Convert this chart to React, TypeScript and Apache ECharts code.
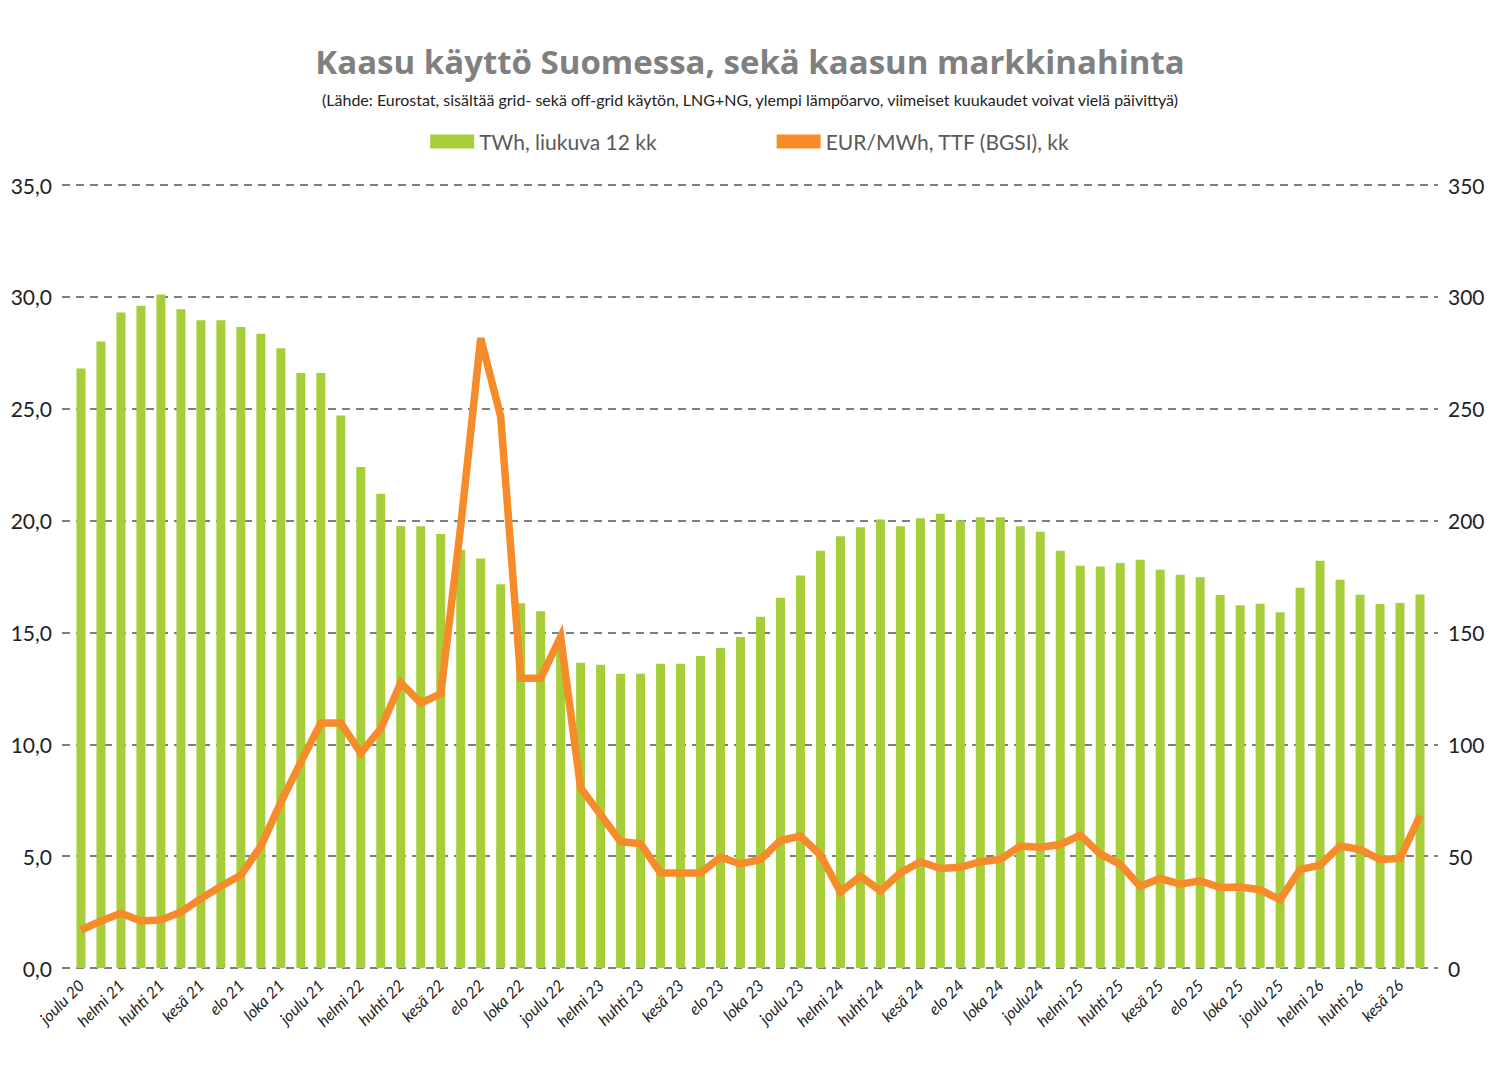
import { useEffect, useRef } from "react";
import * as echarts from "echarts";

// months from Dec 2020 to Jul 2026 (every other one is labelled)
const categories = [
  "joulu 20",
  "tammi 21", "helmi 21", "maalis 21", "huhti 21", "touko 21", "kesä 21",
  "heinä 21", "elo 21", "syys 21", "loka 21", "marras 21", "joulu 21",
  "tammi 22", "helmi 22", "maalis 22", "huhti 22", "touko 22", "kesä 22",
  "heinä 22", "elo 22", "syys 22", "loka 22", "marras 22", "joulu 22",
  "tammi 23", "helmi 23", "maalis 23", "huhti 23", "touko 23", "kesä 23",
  "heinä 23", "elo 23", "syys 23", "loka 23", "marras 23", "joulu 23",
  "tammi 24", "helmi 24", "maalis 24", "huhti 24", "touko 24", "kesä 24",
  "heinä 24", "elo 24", "syys 24", "loka 24", "marras 24", "joulu24",
  "tammi 25", "helmi 25", "maalis 25", "huhti 25", "touko 25", "kesä 25",
  "heinä 25", "elo 25", "syys 25", "loka 25", "marras 25", "joulu 25",
  "tammi 26", "helmi 26", "maalis 26", "huhti 26", "touko 26", "kesä 26",
  "heinä 26",
];

// TWh, rolling 12 months
const twh = [
  26.8, 28.0, 29.3, 29.6, 30.1, 29.45, 28.95, 28.95, 28.65, 28.35, 27.7, 26.6,
  26.6, 24.7, 22.4, 21.2, 19.75, 19.75, 19.4, 18.7, 18.3, 17.15, 16.3, 15.95,
  14.5, 13.65, 13.55, 13.15, 13.15, 13.6, 13.6, 13.95, 14.3, 14.8, 15.7, 16.55,
  17.55, 18.65, 19.3, 19.7, 20.05, 19.75, 20.1, 20.3, 20.0, 20.15, 20.15, 19.75,
  19.5, 18.65, 17.98, 17.95, 18.1, 18.25, 17.8, 17.58, 17.47, 16.67, 16.22, 16.28,
  15.9, 17.0, 18.2, 17.35, 16.68, 16.27, 16.32, 16.7,
];

// EUR/MWh, TTF monthly
const ttf = [
  17, 21, 24.5, 21, 21.5, 25, 31, 36.5, 41.5, 54.5, 74, 92,
  109.5, 109.5, 96, 107, 127.5, 118.5, 122.5, 197.5, 281.5, 246.5, 129.5, 129.5,
  148, 80.5, 68.5, 56.5, 55.5, 42.5, 42.5, 42.5, 49.5, 46.5, 48.5, 57,
  59, 50.5, 34, 41, 34.5, 42.5, 47.5, 44.5, 45, 47.5, 48.5, 54.5,
  54, 55.2, 59.4, 51, 46.3, 36.5, 40, 37.5, 39, 36, 36.2, 35,
  30.5, 44, 46, 54.5, 53, 48.5, 49, 68,
];

const leftTicks = { min: 0, max: 35, interval: 5 };
const rightTicks = { min: 0, max: 350, interval: 50 };

const GREEN = "#a6ce39";
const ORANGE = "#f68b29";
const FONT = "Lato";

const App = () => {
  const ref = useRef<HTMLDivElement>(null);

  useEffect(() => {
    document.body.style.margin = "0";
    if (!ref.current) return;
    const chart = echarts.init(ref.current, undefined, { renderer: "svg" });

    const top = 185;
    const bottom = 102;

    chart.setOption({
      animation: false,
      backgroundColor: "#fff",
      textStyle: { fontFamily: FONT },
      title: {
        text: "Kaasu käyttö Suomessa, sekä kaasun markkinahinta",
        subtext:
          "(Lähde: Eurostat, sisältää grid- sekä off-grid käytön, LNG+NG, ylempi lämpöarvo, viimeiset kuukaudet voivat vielä päivittyä)",
        left: "center",
        top: 40,
        itemGap: 13,
        textStyle: { fontFamily: "Open Sans", fontSize: 33, fontWeight: "bold", color: "#808080" },
        subtextStyle: { fontFamily: FONT, fontSize: 16, color: "#222" },
      },
      legend: {
        top: 126,
        left: "center",
        icon: "rect",
        itemWidth: 44,
        itemHeight: 14,
        itemGap: 120,
        textStyle: { fontFamily: FONT, fontSize: 21, color: "#595959" },
        data: ["TWh, liukuva 12 kk", "EUR/MWh, TTF (BGSI), kk"],
      },
      grid: [
        { left: 71, right: 70, top, bottom },
        { left: 62, right: 62, top, bottom },
      ],
      xAxis: [
        {
          type: "category",
          gridIndex: 0,
          data: categories,
          axisLine: { show: false },
          axisTick: { show: false },
          axisLabel: {
            interval: 1,
            rotate: 45,
            margin: 14,
            fontFamily: FONT,
            fontStyle: "italic",
            fontSize: 16,
            color: "#222",
          },
        },
        {
          type: "category",
          gridIndex: 1,
          data: categories,
          show: false,
        },
      ],
      yAxis: [
        { type: "value", gridIndex: 0, ...leftTicks, show: false, splitLine: { show: false } },
        { type: "value", gridIndex: 0, ...rightTicks, show: false, splitLine: { show: false } },
        {
          type: "value",
          gridIndex: 1,
          position: "left",
          ...leftTicks,
          axisLine: { show: false },
          axisTick: { show: false },
          axisLabel: {
            margin: 10,
            fontFamily: FONT,
            fontSize: 21,
            color: "#222",
            formatter: (v: number) => v.toFixed(1).replace(".", ","),
          },
          splitLine: {
            show: true,
            lineStyle: { color: "#555", width: 1.5, type: [8, 6] },
          },
        },
        {
          type: "value",
          gridIndex: 1,
          position: "right",
          ...rightTicks,
          axisLine: { show: false },
          axisTick: { show: false },
          axisLabel: { margin: 10, fontFamily: FONT, fontSize: 21, color: "#222" },
          splitLine: { show: false },
        },
      ],
      series: [
        {
          name: "TWh, liukuva 12 kk",
          type: "bar",
          xAxisIndex: 0,
          yAxisIndex: 0,
          data: twh,
          barWidth: 9,
          itemStyle: { color: GREEN },
        },
        {
          name: "EUR/MWh, TTF (BGSI), kk",
          type: "line",
          xAxisIndex: 0,
          yAxisIndex: 1,
          data: ttf,
          showSymbol: false,
          symbol: "none",
          itemStyle: { color: ORANGE },
          lineStyle: { color: ORANGE, width: 7.5, join: "miter" },
          z: 5,
        },
      ],
    });

    return () => chart.dispose();
  }, []);

  return <div ref={ref} style={{ width: 1500, height: 1070 }} />;
};

export default App;
